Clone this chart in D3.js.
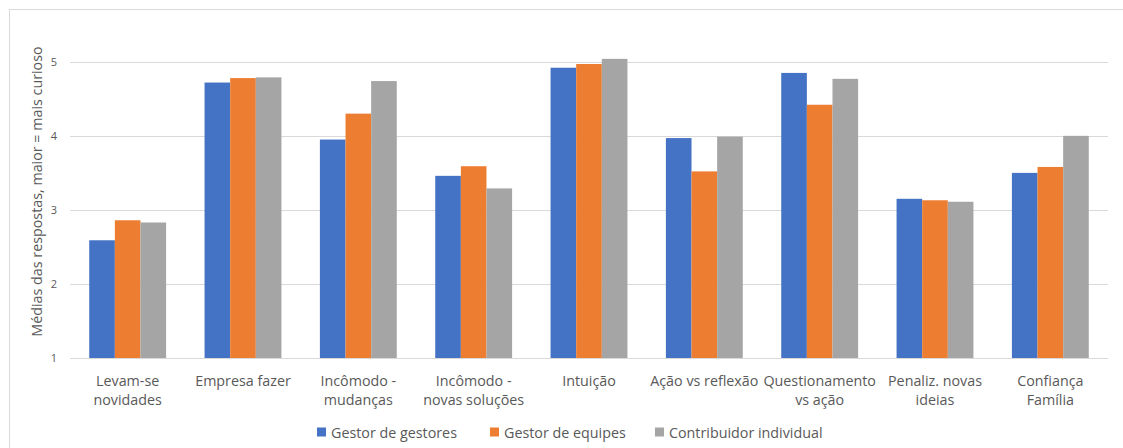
<!DOCTYPE html>
<html>
<head>
<meta charset="utf-8">
<script src="https://cdn.jsdelivr.net/npm/d3@7"></script>
<style>
  html, body { margin: 0; padding: 0; background: #ffffff; }
  svg { display: block; }
  text { font-family: "Open Sans", "Noto Sans", sans-serif; fill: #595959; }
</style>
</head>
<body>
<svg id="chart" width="1123" height="448"></svg>
<script>
// Categories (x axis), one array per respondent group, and the y tick values
const categories = [
  ["Levam-se", "novidades"],
  ["Empresa fazer"],
  ["Incômodo -", "mudanças"],
  ["Incômodo -", "novas soluções"],
  ["Intuição"],
  ["Ação vs reflexão"],
  ["Questionamento", "vs ação"],
  ["Penaliz. novas", "ideias"],
  ["Confiança", "Família"]
];
const seriesNames = ["Gestor de gestores", "Gestor de equipes", "Contribuidor individual"];
const seriesColors = ["#4472C4", "#ED7D31", "#A5A5A5"];
const gestorDeGestores      = [2.59, 4.72, 3.95, 3.46, 4.92, 3.97, 4.85, 3.15, 3.50];
const gestorDeEquipes       = [2.86, 4.78, 4.30, 3.59, 4.97, 3.52, 4.42, 3.13, 3.58];
const contribuidorIndividual = [2.83, 4.79, 4.74, 3.29, 5.04, 3.99, 4.77, 3.11, 4.00];
const yTicks = [1, 2, 3, 4, 5];
const yAxisTitle = "Médias das respostas, maior  = mais curioso";

const series = [gestorDeGestores, gestorDeEquipes, contribuidorIndividual];

const svg = d3.select("#chart");

// chart frame
svg.append("rect")
  .attr("x", 9.5).attr("y", 9.5)
  .attr("width", 1130).attr("height", 460)
  .attr("fill", "none").attr("stroke", "#d9d9d9").attr("stroke-width", 1);

const plot = { left: 70, right: 1108, bottom: 358, top: 47 };

const x0 = d3.scaleBand()
  .domain(d3.range(categories.length))
  .range([plot.left, plot.right])
  .paddingInner(1 / 3)
  .paddingOuter(1 / 6);

const x1 = d3.scaleBand()
  .domain(d3.range(series.length))
  .range([0, x0.bandwidth()]);

const y = d3.scaleLinear()
  .domain([1, 5.2])
  .range([plot.bottom, plot.top]);

// horizontal gridlines
svg.append("g")
  .selectAll("line")
  .data(yTicks)
  .join("line")
  .attr("x1", plot.left).attr("x2", plot.right)
  .attr("y1", d => Math.round(y(d)) + 0.5).attr("y2", d => Math.round(y(d)) + 0.5)
  .attr("stroke", "#d9d9d9").attr("stroke-width", 1);

// y tick labels
const yAxis = d3.axisLeft(y).tickValues(yTicks).tickSize(0).tickPadding(0).tickFormat(d3.format("d"));
const gy = svg.append("g").attr("transform", `translate(${plot.left - 13},0)`).call(yAxis);
gy.select(".domain").remove();
gy.selectAll("text").attr("font-size", 11).style("font-family", "'Open Sans', sans-serif").attr("fill", "#595959");

// y axis title
svg.append("text")
  .attr("transform", "translate(38,191.5) rotate(-90)")
  .attr("text-anchor", "middle")
  .attr("dominant-baseline", "middle")
  .attr("font-size", 14.3)
  .text(yAxisTitle);

// bars
const groups = svg.append("g")
  .selectAll("g")
  .data(categories.map((c, i) => i))
  .join("g")
  .attr("transform", i => `translate(${x0(i)},0)`);

groups.selectAll("rect")
  .data(i => series.map((s, k) => ({ k, v: s[i] })))
  .join("rect")
  .attr("x", d => x1(d.k))
  .attr("width", x1.bandwidth())
  .attr("y", d => y(d.v))
  .attr("height", d => y(1) - y(d.v))
  .attr("fill", d => seriesColors[d.k]);

// baseline on top of bars
svg.append("line")
  .attr("x1", plot.left).attr("x2", plot.right)
  .attr("y1", Math.round(y(1)) + 0.5).attr("y2", Math.round(y(1)) + 0.5)
  .attr("stroke", "#d9d9d9");

// category labels
const labels = svg.append("g")
  .selectAll("text")
  .data(categories.map((c, i) => ({ c, i })))
  .join("text")
  .attr("x", d => x0(d.i) + x0.bandwidth() / 2)
  .attr("y", 386)
  .attr("text-anchor", "middle")
  .attr("font-size", 14.3);
labels.selectAll("tspan")
  .data(d => d.c.map(line => ({ line, x: x0(d.i) + x0.bandwidth() / 2 })))
  .join("tspan")
  .attr("x", d => d.x)
  .attr("dy", (d, j) => j === 0 ? 0 : 19)
  .text(d => d.line);

// legend
const legendX = [317, 490, 655];
const legend = svg.append("g")
  .selectAll("g")
  .data(seriesNames.map((n, k) => ({ n, k })))
  .join("g")
  .attr("transform", d => `translate(${legendX[d.k]},432)`);
legend.append("rect")
  .attr("x", 0).attr("y", -4.5)
  .attr("width", 9).attr("height", 9)
  .attr("fill", d => seriesColors[d.k]);
legend.append("text")
  .attr("x", 14).attr("y", 0)
  .attr("dominant-baseline", "central")
  .attr("font-size", 14.3)
  .text(d => d.n);
</script>
</body>
</html>
